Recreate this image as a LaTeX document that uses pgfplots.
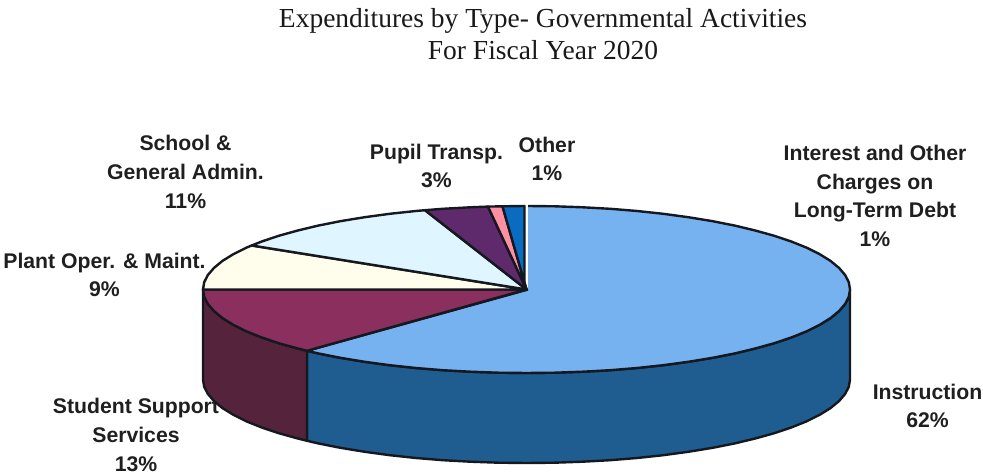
\documentclass[border=0pt]{standalone}
\usepackage{pgfplots}
\usepackage{fontspec}
\pgfplotsset{compat=1.18}
\setmainfont{Liberation Sans}
\newfontfamily\titlefont{Liberation Serif}
\definecolor{instrTop}{HTML}{77B2F0}
\definecolor{instrSide}{HTML}{1F5C90}
\definecolor{studTop}{HTML}{8A2F5E}
\definecolor{studSide}{HTML}{55233C}
\definecolor{plantTop}{HTML}{FFFDEB}
\definecolor{schoolTop}{HTML}{DFF5FF}
\definecolor{pupilTop}{HTML}{5F2A6B}
\definecolor{otherTop}{HTML}{FF8FA3}
\definecolor{debtTop}{HTML}{0A6CC0}
\definecolor{rim}{HTML}{15181F}
\tikzset{
  lbl/.style={font=\fontsize{21.2bp}{28.6bp}\selectfont\bfseries, align=center, text=black!88, inner sep=0pt},
  ttl/.style={font=\fontsize{27.5bp}{32bp}\selectfont\titlefont, align=center, text=black!90, inner sep=0pt},
}
\begin{document}
\begin{tikzpicture}
\begin{axis}[
  scale only axis, width=983bp, height=475bp,
  xmin=-526.5, xmax=456.5, ymin=-185.5, ymax=289.5,
  hide axis, clip=false,
  every axis plot/.append style={no markers, draw=rim, line width=2.4bp, line join=round},
]
% keep the full frame in the picture's bounding box
\path (rel axis cs:0,0) (rel axis cs:1,1);

% headings and labels sit behind the pie
\node[ttl] at (axis cs:16.5,255.5) {Expenditures by Type- Governmental Activities\\For Fiscal Year 2020};
\node[lbl] at (axis cs:-341,117.5) {School \&\\General Admin.\\11\%};
\node[lbl] at (axis cs:-90,123.5) {Pupil Transp.\\3\%};
\node[lbl] at (axis cs:20.5,130.5) {Other\\1\%};
\node[lbl] at (axis cs:348.5,93.5) {Interest and Other\\Charges on\\Long-Term Debt\\1\%};
\node[lbl] at (axis cs:-422,14.5) {Plant Oper. \& Maint.\\9\%};
\node[lbl] at (axis cs:-390.5,-145.5) {Student Support\\Services\\13\%};
\node[lbl] at (axis cs:401,-116.5) {Instruction\\62\%};

% side wall, Instruction
\addplot[fill=instrSide] coordinates {
 (323.5,0)(322.3,-7.3)(318.6,-14.5)(312.5,-21.6)(304,-28.6)(293.2,-35.3)(280.2,-41.8)(265,-47.9)(247.8,-53.7)(228.7,-59)(207.9,-64)(185.6,-68.4)(161.8,-72.3)(136.7,-75.7)(110.6,-78.5)(83.7,-80.7)(56.2,-82.2)(28.2,-83.2)(0,-83.5)
 (-28.2,-83.2)(-56.2,-82.2)(-83.7,-80.7)(-110.6,-78.5)(-136.7,-75.7)(-161.8,-72.3)(-185.6,-68.4)(-207.9,-64)(-219.5,-61.3)
 (-219.5,-151.3)(-207.9,-154)(-185.6,-158.4)(-161.8,-162.3)(-136.7,-165.7)(-110.6,-168.5)(-83.7,-170.7)(-56.2,-172.2)(-28.2,-173.2)
 (0,-173.5)(28.2,-173.2)(56.2,-172.2)(83.7,-170.7)(110.6,-168.5)(136.7,-165.7)(161.8,-162.3)(185.6,-158.4)(207.9,-154)(228.7,-149)(247.8,-143.7)(265,-137.9)(280.2,-131.8)(293.2,-125.3)(304,-118.6)(312.5,-111.6)(318.6,-104.5)(322.3,-97.3)(323.5,-90)
} -- cycle;

% side wall, Student Support Services
\addplot[fill=studSide] coordinates {
 (-219.5,-61.3)(-228.7,-59)(-247.8,-53.7)(-265,-47.9)(-280.2,-41.8)(-293.2,-35.3)(-304,-28.6)(-312.5,-21.6)(-318.6,-14.5)(-322.3,-7.3)(-323.5,0)
 (-323.5,-90)(-322.3,-97.3)(-318.6,-104.5)(-312.5,-111.6)(-304,-118.6)(-293.2,-125.3)(-280.2,-131.8)(-265,-137.9)(-247.8,-143.7)(-228.7,-149)(-219.5,-151.3)
} -- cycle;

% top face, Instruction (its edge towards the small slices stays unstroked)
\addplot[fill=instrTop] coordinates {
 (1.5,83.5)(28.2,83.2)(56.2,82.2)(83.7,80.7)(110.6,78.5)(136.7,75.7)(161.8,72.3)(185.6,68.4)(207.9,64)(228.7,59)(247.8,53.7)(265,47.9)(280.2,41.8)(293.2,35.3)(304,28.6)(312.5,21.6)(318.6,14.5)(322.3,7.3)(323.5,0)
 (322.3,-7.3)(318.6,-14.5)(312.5,-21.6)(304,-28.6)(293.2,-35.3)(280.2,-41.8)(265,-47.9)(247.8,-53.7)(228.7,-59)(207.9,-64)(185.6,-68.4)(161.8,-72.3)(136.7,-75.7)(110.6,-78.5)(83.7,-80.7)(56.2,-82.2)(28.2,-83.2)(0,-83.5)
 (-28.2,-83.2)(-56.2,-82.2)(-83.7,-80.7)(-110.6,-78.5)(-136.7,-75.7)(-161.8,-72.3)(-185.6,-68.4)(-207.9,-64)(-219.5,-61.3)
 (1.5,0)
};

% top face, Student Support Services
\addplot[fill=studTop] coordinates {
 (0,0)(-219.5,-61.3)(-228.7,-59)(-247.8,-53.7)(-265,-47.9)(-280.2,-41.8)(-293.2,-35.3)(-304,-28.6)(-312.5,-21.6)(-318.6,-14.5)(-322.3,-7.3)(-323.5,0)
} -- cycle;

% top face, Plant Operation and Maintenance
\addplot[fill=plantTop] coordinates {
 (0,0)(-323.5,0)(-322.3,7.3)(-318.6,14.5)(-312.5,21.6)(-304,28.6)(-293.2,35.3)(-280.2,41.8)(-274.8,44)
} -- cycle;

% top face, School and General Administration
\addplot[fill=schoolTop] coordinates {
 (0,0)(-274.8,44)(-265,47.9)(-247.8,53.7)(-228.7,59)(-207.9,64)(-185.6,68.4)(-161.8,72.3)(-136.7,75.7)(-110.6,78.5)(-101.5,79.3)
} -- cycle;

% top face, Pupil Transportation
\addplot[fill=pupilTop] coordinates {
 (0,0)(-101.5,79.3)(-83.7,80.7)(-56.2,82.2)(-38.5,82.9)
} -- cycle;

% top face, Other
\addplot[fill=otherTop] coordinates {
 (0,0)(-38.5,82.9)(-24,83.2)
} -- cycle;

% top face, Interest and Other Charges on Long-Term Debt
\addplot[fill=debtTop] coordinates {
 (0,0)(-24,83.2)(-2,83.5)(-2,0)
} -- cycle;
\end{axis}
\end{tikzpicture}
\end{document}
